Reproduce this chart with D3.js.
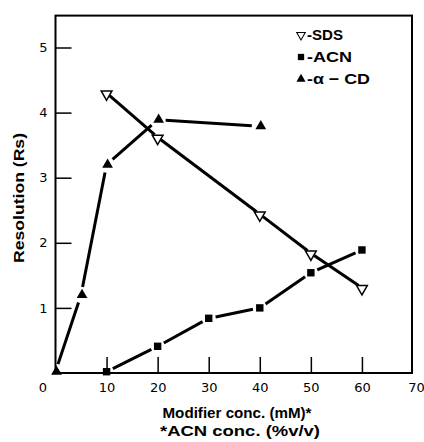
<!DOCTYPE html>
<html>
<head>
<meta charset="utf-8">
<script src="https://cdn.jsdelivr.net/npm/d3@7"></script>
<style>
  body { margin: 0; background: #fff; }
  svg { display: block; }
</style>
</head>
<body>
<svg id="chart" width="424" height="442"></svg>
<script>
// values
var sdsX = [10, 20, 40, 50, 60];
var sdsY = [4.3, 3.62, 2.44, 1.84, 1.31];
var acnX = [10, 20, 30, 40, 50, 60];
var acnY = [0.02, 0.41, 0.84, 1.0, 1.54, 1.89];
var cdX = [0, 5, 10, 20, 40];
var cdY = [0.02, 1.2, 3.2, 3.89, 3.79];

var xTicks = [0, 10, 20, 30, 40, 50, 60, 70];
var yTicks = [1, 2, 3, 4, 5];
var legendNames = ["-SDS", "-ACN", "-\u03b1 \u2212 CD"];

var svg = d3.select("#chart");
var bold = "Liberation Sans, Arial, sans-serif";

var x = d3.scaleLinear().domain([0, 70]).range([55.5, 413]);
var y = d3.scaleLinear().domain([0, 5.49]).range([373, 15.6]);

// frame
svg.append("rect")
  .attr("x", x(0)).attr("y", y(5.49))
  .attr("width", 412 - x(0)).attr("height", y(0) - y(5.49))
  .attr("fill", "none").attr("stroke", "#000").attr("stroke-width", 2);

var xAxis = svg.append("g")
  .attr("transform", "translate(0," + y(0) + ")")
  .call(d3.axisBottom(x).tickValues(xTicks).tickFormat(d3.format("d"))
    .tickSizeInner(-16).tickSizeOuter(0).tickPadding(10));
var yAxis = svg.append("g")
  .attr("transform", "translate(" + x(0) + ",0)")
  .call(d3.axisLeft(y).tickValues(yTicks).tickFormat(d3.format("d"))
    .tickSizeInner(-16).tickSizeOuter(0).tickPadding(8));

[xAxis, yAxis].forEach(function(a) {
  a.select(".domain").remove();
  a.selectAll("line").attr("stroke", "#000").attr("stroke-width", 1.5);
  a.selectAll("text")
    .attr("font-family", "DejaVu Sans, sans-serif")
    .attr("font-size", 13).attr("fill", "#000");
});
xAxis.selectAll(".tick").filter(function(d) { return d === 0 || d === 70; }).select("line").remove();
xAxis.selectAll(".tick").filter(function(d) { return d === 0; }).select("text").attr("dx", -13);
xAxis.selectAll(".tick").filter(function(d) { return d === 70; }).select("text").attr("dx", 3);

// broken line segments, gap around each marker
function drawSeries(xs, ys, gap) {
  var pts = xs.map(function(v, i) { return [x(v), y(ys[i])]; });
  for (var i = 0; i < pts.length - 1; i++) {
    var a = pts[i], b = pts[i + 1];
    var dx = b[0] - a[0], dy = b[1] - a[1], len = Math.sqrt(dx * dx + dy * dy);
    var ux = dx / len, uy = dy / len;
    svg.append("line")
      .attr("x1", a[0] + ux * gap).attr("y1", a[1] + uy * gap)
      .attr("x2", b[0] - ux * gap).attr("y2", b[1] - uy * gap)
      .attr("stroke", "#000").attr("stroke-width", 3);
  }
  return pts;
}

var triUp = d3.symbol().type(d3.symbolTriangle).size(50);
var square = d3.symbol().type(d3.symbolSquare).size(55);

var sdsPts = drawSeries(sdsX, sdsY, 4);
var acnPts = drawSeries(acnX, acnY, 7);
var cdPts = drawSeries(cdX, cdY, 8);

svg.append("g").selectAll("path").data(sdsPts).enter().append("path")
  .attr("d", triUp())
  .attr("transform", function(d) { return "translate(" + d[0] + "," + (d[1] + 1) + ") rotate(180)"; })
  .attr("fill", "#fff").attr("stroke", "#000").attr("stroke-width", 1.5);
svg.append("g").selectAll("path").data(acnPts).enter().append("path")
  .attr("d", square())
  .attr("transform", function(d) { return "translate(" + d[0] + "," + d[1] + ")"; })
  .attr("fill", "#000");
svg.append("g").selectAll("path").data(cdPts).enter().append("path")
  .attr("d", triUp())
  .attr("transform", function(d) { return "translate(" + (d[0] + 1) + "," + d[1] + ")"; })
  .attr("fill", "#000");

// legend
var legLen = [36, 45, 63];
var leg = svg.append("g").attr("transform", "translate(301,35)");
legendNames.forEach(function(name, i) {
  var g = leg.append("g").attr("transform", "translate(0," + (i * 22) + ")");
  if (i === 0) {
    g.append("path").attr("d", triUp()).attr("transform", "rotate(180) scale(0.8)")
      .attr("fill", "#fff").attr("stroke", "#000").attr("stroke-width", 1.3);
  } else if (i === 1) {
    g.append("path").attr("d", square()).attr("transform", "scale(0.85)").attr("fill", "#000");
  } else {
    g.append("path").attr("d", triUp()).attr("transform", "scale(0.85)").attr("fill", "#000");
  }
  g.append("text").attr("x", 6).attr("dy", "0.36em")
    .attr("font-family", bold).attr("font-weight", "bold")
    .attr("font-size", 15).attr("textLength", legLen[i]).attr("lengthAdjust", "spacingAndGlyphs")
    .text(name);
});

// axis titles
svg.append("text")
  .attr("transform", "translate(24,198) rotate(-90)")
  .attr("text-anchor", "middle")
  .attr("font-family", bold).attr("font-weight", "bold")
  .attr("font-size", 15).attr("textLength", 130).attr("lengthAdjust", "spacingAndGlyphs")
  .text("Resolution (Rs)");
svg.append("text")
  .attr("x", 237).attr("y", 418).attr("text-anchor", "middle")
  .attr("font-family", bold).attr("font-weight", "bold")
  .attr("font-size", 15).attr("textLength", 149).attr("lengthAdjust", "spacingAndGlyphs")
  .text("Modifier conc. (mM)*");
svg.append("text")
  .attr("x", 240).attr("y", 436).attr("text-anchor", "middle")
  .attr("font-family", bold).attr("font-weight", "bold")
  .attr("font-size", 15).attr("textLength", 160).attr("lengthAdjust", "spacingAndGlyphs")
  .text("*ACN conc. (%v/v)");
</script>
</body>
</html>
